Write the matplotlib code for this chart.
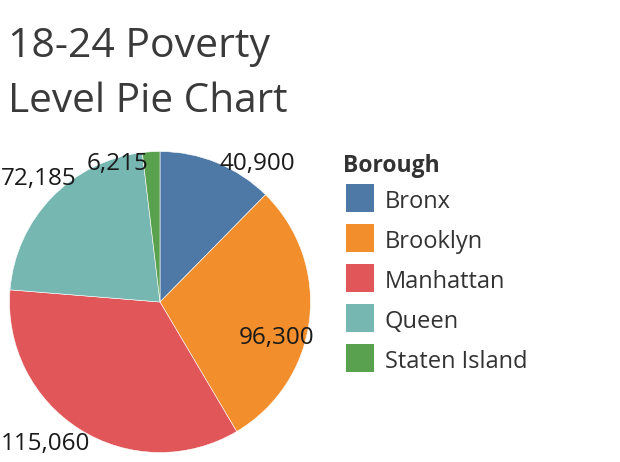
import matplotlib
matplotlib.use("Agg")
import matplotlib.pyplot as plt
from matplotlib.patches import Rectangle

boroughs = ["Bronx", "Brooklyn", "Manhattan", "Queen", "Staten Island"]
values = [40900, 96300, 115060, 72185, 6215]
value_labels = ["40,900", "96,300", "115,060", "72,185", "6,215"]
colors = ["#4e79a7", "#f28e2b", "#e15759", "#76b7b2", "#59a14f"]
title = "18-24 Poverty\nLevel Pie Chart"
legend_title = "Borough"

# label centre positions in pie data units (radius = 1)
label_pos = [(0.645, 0.915), (0.775, -0.24), (-0.76, -0.943), (-0.807, 0.82), (-0.283, 0.915)]

FONT = "Open Sans"
W, H = 620, 462
fig = plt.figure(figsize=(W / 100, H / 100), dpi=100)

ov = fig.add_axes([0, 0, 1, 1])
ov.set_xlim(0, W)
ov.set_ylim(H, 0)
ov.axis("off")

cx, cy, r = 160, 302, 150.5
ax = fig.add_axes([(cx - r) / W, (H - cy - r) / H, 2 * r / W, 2 * r / H])
ax.pie(values, colors=colors, startangle=90, counterclock=False, radius=1,
       wedgeprops=dict(edgecolor="white", linewidth=0.4))
ax.set_xlim(-1, 1)
ax.set_ylim(-1, 1)
ax.set_aspect("auto")
ax.axis("off")
for (x, y), t in zip(label_pos, value_labels):
    ax.text(x, y, t, ha="center", va="center", fontsize=17.5, family=FONT,
            color="#1a1a1a", clip_on=False)

ov.text(8, 57, title.split("\n")[0], fontsize=29.5, family=FONT, color="#3a3a3a",
        ha="left", va="baseline")
ov.text(8, 112, title.split("\n")[1], fontsize=29.2, family=FONT, color="#3a3a3a",
        ha="left", va="baseline")

ov.text(343, 172, legend_title, fontsize=16.5, family=FONT, fontweight="bold",
        color="#333333", ha="left", va="baseline")
for i, (name, c) in enumerate(zip(boroughs, colors)):
    top = 184 + 40 * i
    ov.add_patch(Rectangle((346, top), 28, 28, facecolor=c, edgecolor="none"))
    ov.text(385, top + 24, name, fontsize=17, family=FONT, color="#333333",
            ha="left", va="baseline")

fig.savefig("out.png", dpi=100)
